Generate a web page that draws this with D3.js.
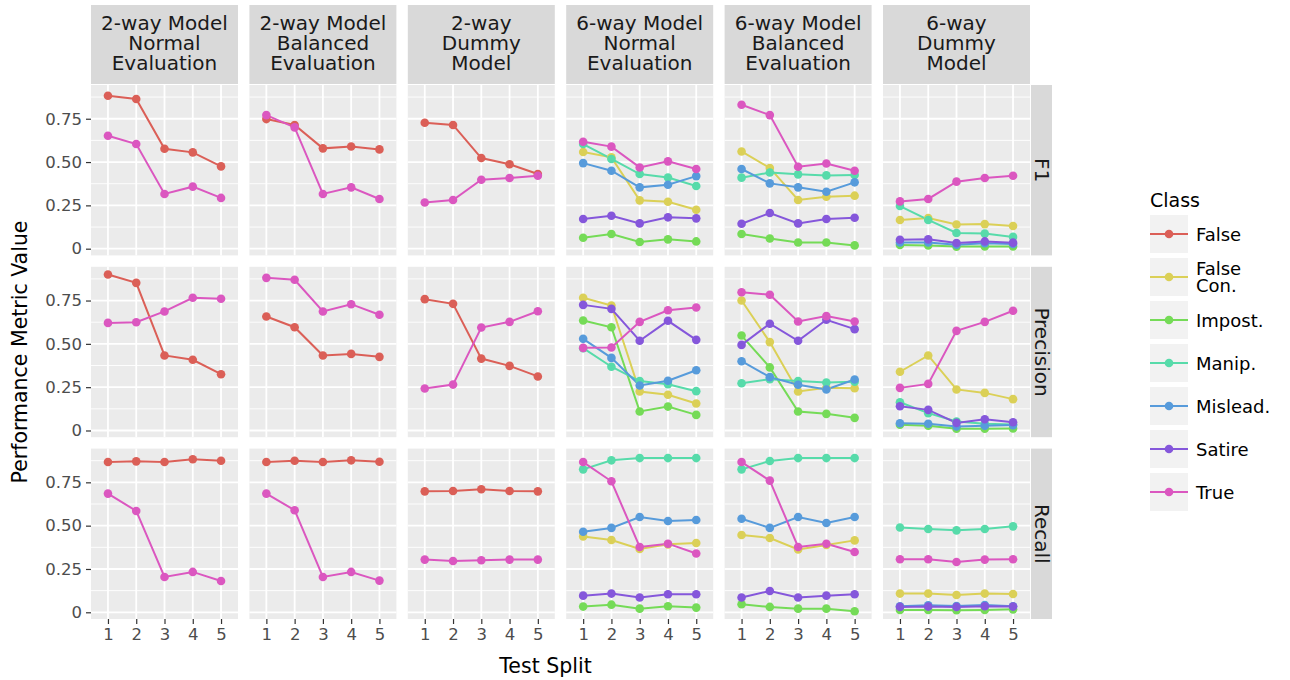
<!DOCTYPE html>
<html>
<head>
<meta charset="utf-8">
<script src="https://cdn.jsdelivr.net/npm/d3@7"></script>
<style>
  html, body { margin: 0; padding: 0; background: #fff; }
  svg { display: block; font-family: "DejaVu Sans", sans-serif; }
</style>
</head>
<body>
<svg id="chart" width="1290" height="680"></svg>
<script>
// facet labels
const models = ['2-way Model\nNormal\nEvaluation', '2-way Model\nBalanced\nEvaluation', '2-way\nDummy\nModel',
  '6-way Model\nNormal\nEvaluation', '6-way Model\nBalanced\nEvaluation', '6-way\nDummy\nModel'];
const metrics = ['F1', 'Precision', 'Recall'];
const splits = [1, 2, 3, 4, 5];
const yTicks = [0, 0.25, 0.5, 0.75];
const yTickLabels = ['0', '0.25', '0.50', '0.75'];

const classes = ['False', 'False\nCon.', 'Impost.', 'Manip.', 'Mislead.', 'Satire', 'True'];
const twoWayClasses = ['False', 'True'];
const sixWayClasses = ['False\nCon.', 'Impost.', 'Manip.', 'Mislead.', 'Satire', 'True'];

// 2-way model, normal evaluation  [False, True]
const f1_2wayNormal = [[0.883, 0.864, 0.577, 0.556, 0.475], [0.652, 0.604, 0.316, 0.358, 0.293]];
const prec_2wayNormal = [[0.900, 0.852, 0.433, 0.408, 0.325], [0.621, 0.625, 0.687, 0.766, 0.760]];
const rec_2wayNormal = [[0.867, 0.871, 0.867, 0.883, 0.875], [0.685, 0.585, 0.204, 0.233, 0.181]];

// 2-way model, balanced evaluation
const f1_2wayBalanced = [[0.748, 0.714, 0.579, 0.590, 0.573], [0.771, 0.700, 0.316, 0.354, 0.287]];
const prec_2wayBalanced = [[0.658, 0.596, 0.433, 0.442, 0.425], [0.881, 0.870, 0.687, 0.729, 0.668]];
const rec_2wayBalanced = [[0.867, 0.875, 0.867, 0.877, 0.869], [0.685, 0.589, 0.204, 0.233, 0.183]];

// 2-way dummy model
const f1_2wayDummy = [[0.727, 0.714, 0.523, 0.487, 0.431], [0.267, 0.281, 0.398, 0.408, 0.421]];
const prec_2wayDummy = [[0.758, 0.731, 0.415, 0.373, 0.312], [0.242, 0.265, 0.594, 0.627, 0.688]];
const rec_2wayDummy = [[0.698, 0.700, 0.710, 0.700, 0.698], [0.304, 0.296, 0.300, 0.304, 0.304]];

// 6-way model, normal evaluation  [False Con., Impost., Manip., Mislead., Satire, True]
const f1_6wayNormal = [
  [0.558, 0.527, 0.279, 0.271, 0.225], [0.063, 0.085, 0.039, 0.054, 0.042],
  [0.604, 0.518, 0.431, 0.411, 0.362], [0.494, 0.450, 0.354, 0.369, 0.419],
  [0.171, 0.190, 0.146, 0.181, 0.175], [0.617, 0.589, 0.469, 0.504, 0.460]];
const prec_6wayNormal = [
  [0.766, 0.721, 0.225, 0.206, 0.156], [0.635, 0.596, 0.110, 0.138, 0.090],
  [0.475, 0.368, 0.285, 0.267, 0.227], [0.529, 0.419, 0.260, 0.287, 0.348],
  [0.725, 0.702, 0.518, 0.633, 0.523], [0.477, 0.479, 0.627, 0.694, 0.710]];
const rec_6wayNormal = [
  [0.438, 0.417, 0.365, 0.392, 0.400], [0.033, 0.044, 0.021, 0.035, 0.027],
  [0.825, 0.877, 0.890, 0.890, 0.890], [0.465, 0.487, 0.550, 0.527, 0.533],
  [0.096, 0.108, 0.085, 0.104, 0.104], [0.867, 0.756, 0.377, 0.396, 0.339]];

// 6-way model, balanced evaluation
const f1_6wayBalanced = [
  [0.561, 0.466, 0.281, 0.300, 0.306], [0.085, 0.059, 0.036, 0.036, 0.019],
  [0.410, 0.440, 0.429, 0.423, 0.425], [0.460, 0.377, 0.354, 0.329, 0.383],
  [0.144, 0.206, 0.146, 0.171, 0.179], [0.831, 0.771, 0.473, 0.492, 0.450]];
const prec_6wayBalanced = [
  [0.750, 0.510, 0.225, 0.246, 0.244], [0.548, 0.364, 0.110, 0.096, 0.073],
  [0.273, 0.296, 0.285, 0.277, 0.281], [0.400, 0.308, 0.264, 0.237, 0.294],
  [0.494, 0.616, 0.518, 0.639, 0.585], [0.798, 0.783, 0.629, 0.660, 0.629]];
const rec_6wayBalanced = [
  [0.446, 0.429, 0.363, 0.388, 0.415], [0.046, 0.031, 0.021, 0.021, 0.006],
  [0.825, 0.873, 0.890, 0.890, 0.890], [0.540, 0.487, 0.550, 0.515, 0.550],
  [0.085, 0.123, 0.085, 0.096, 0.104], [0.867, 0.760, 0.377, 0.396, 0.348]];

// 6-way dummy model
const f1_6wayDummy = [
  [0.166, 0.177, 0.140, 0.142, 0.131], [0.021, 0.019, 0.012, 0.013, 0.013],
  [0.246, 0.166, 0.091, 0.087, 0.068], [0.036, 0.036, 0.023, 0.031, 0.027],
  [0.052, 0.054, 0.033, 0.042, 0.035], [0.273, 0.287, 0.387, 0.408, 0.421]];
const prec_6wayDummy = [
  [0.339, 0.433, 0.237, 0.217, 0.181], [0.033, 0.027, 0.010, 0.010, 0.012],
  [0.163, 0.100, 0.052, 0.039, 0.035], [0.042, 0.039, 0.023, 0.027, 0.031],
  [0.140, 0.119, 0.044, 0.065, 0.048], [0.246, 0.269, 0.575, 0.627, 0.691]];
const rec_6wayDummy = [
  [0.108, 0.108, 0.100, 0.108, 0.106], [0.013, 0.013, 0.012, 0.013, 0.017],
  [0.489, 0.481, 0.473, 0.481, 0.496], [0.035, 0.040, 0.036, 0.042, 0.035],
  [0.031, 0.033, 0.031, 0.035, 0.033], [0.306, 0.306, 0.290, 0.304, 0.306]];

// grid of panels: rows = metrics, cols = models
const panelData = [
  [f1_2wayNormal, f1_2wayBalanced, f1_2wayDummy, f1_6wayNormal, f1_6wayBalanced, f1_6wayDummy],
  [prec_2wayNormal, prec_2wayBalanced, prec_2wayDummy, prec_6wayNormal, prec_6wayBalanced, prec_6wayDummy],
  [rec_2wayNormal, rec_2wayBalanced, rec_2wayDummy, rec_6wayNormal, rec_6wayBalanced, rec_6wayDummy]
];
const panelClasses = [twoWayClasses, twoWayClasses, twoWayClasses, sixWayClasses, sixWayClasses, sixWayClasses];

const colors = ['#DB5F57', '#DBD057', '#75DB57', '#57DBAA', '#579BDB', '#8557DB', '#DB57C0'];

const svg = d3.select('#chart');

const plotLeft = 91, plotRight = 1030, plotTop = 85, plotBottom = 619;
const gap = 11.4;
const pw = (plotRight - plotLeft - gap * 5) / 6;
const ph = (plotBottom - plotTop - gap * 2) / 3;

const color = d3.scaleOrdinal().domain(classes).range(colors);

// shared y scale, ggplot style 5% expansion
const allVals = panelData.flat(3);
const [ymin, ymax] = d3.extent(allVals);
const pad = (ymax - ymin) * 0.05;
const y = d3.scaleLinear().domain([ymin - pad, ymax + pad]).range([ph, 0]);

// discrete x: 0.6 expansion each side
const x = d3.scaleLinear().domain([0.4, 5.6]).range([0, pw]);
const minorY = [0.125, 0.375, 0.625, 0.875];

const line = d3.line().x((d, i) => x(splits[i])).y(d => y(d));

panelData.forEach((rowData, r) => {
  rowData.forEach((series, c) => {
    const px = plotLeft + c * (pw + gap);
    const py = plotTop + r * (ph + gap);
    const g = svg.append('g').attr('transform', `translate(${px},${py})`);

    g.append('rect').attr('width', pw).attr('height', ph).attr('fill', '#EBEBEB');

    g.selectAll('.minor').data(minorY.filter(v => y(v) > 0 && y(v) < ph)).enter()
      .append('line')
      .attr('x1', 0).attr('x2', pw)
      .attr('y1', d => y(d)).attr('y2', d => y(d))
      .attr('stroke', '#fff').attr('stroke-width', 0.9);

    g.selectAll('.majorY').data(yTicks).enter()
      .append('line')
      .attr('x1', 0).attr('x2', pw)
      .attr('y1', d => y(d)).attr('y2', d => y(d))
      .attr('stroke', '#fff').attr('stroke-width', 1.8);

    g.selectAll('.majorX').data(splits).enter()
      .append('line')
      .attr('y1', 0).attr('y2', ph)
      .attr('x1', d => x(d)).attr('x2', d => x(d))
      .attr('stroke', '#fff').attr('stroke-width', 1.8);

    const cls = panelClasses[c];

    g.selectAll('.series').data(series).enter()
      .append('path')
      .attr('d', d => line(d))
      .attr('fill', 'none')
      .attr('stroke', (d, i) => color(cls[i]))
      .attr('stroke-width', 2);

    series.forEach((vals, i) => {
      g.selectAll(null).data(vals).enter()
        .append('circle')
        .attr('cx', (d, j) => x(splits[j]))
        .attr('cy', d => y(d))
        .attr('r', 4.3)
        .attr('fill', color(cls[i]));
    });

    // y axis on first column
    if (c === 0) {
      const ax = g.append('g').call(d3.axisLeft(y).tickValues(yTicks)
        .tickFormat((d, i) => yTickLabels[i]).tickSize(5).tickPadding(4));
      ax.select('.domain').remove();
      ax.selectAll('line').attr('stroke', '#333').attr('stroke-width', 1.2);
      ax.selectAll('text').attr('fill', '#4D4D4D').style('font-size', '16.5px')
        .style('font-family', '"DejaVu Sans", sans-serif');
    }

    // x axis on bottom row
    if (r === 2) {
      const ax = g.append('g').attr('transform', `translate(0,${ph})`)
        .call(d3.axisBottom(x).tickValues(splits).tickFormat(d3.format('d')).tickSize(5).tickPadding(4));
      ax.select('.domain').remove();
      ax.selectAll('line').attr('stroke', '#333').attr('stroke-width', 1.2);
      ax.selectAll('text').attr('fill', '#4D4D4D').style('font-size', '16.5px')
        .style('font-family', '"DejaVu Sans", sans-serif');
    }

    // column strips, one text per line
    if (r === 0) {
      const sh = 79;
      const sg = svg.append('g').attr('transform', `translate(${px},${plotTop - sh - 1})`);
      sg.append('rect').attr('width', pw).attr('height', sh).attr('fill', '#D9D9D9');
      const lines = models[c].split('\n');
      lines.forEach((ln, k) => {
        sg.append('text').attr('text-anchor', 'middle').attr('fill', '#1A1A1A')
          .style('font-size', '20px')
          .attr('x', pw / 2).attr('y', sh / 2 + (k - (lines.length - 1) / 2) * 20 + 5).text(ln);
      });
    }

    // row strips
    if (c === 5) {
      const sw = 21;
      const sg = svg.append('g').attr('transform', `translate(${px + pw + 1},${py})`);
      sg.append('rect').attr('width', sw).attr('height', ph).attr('fill', '#D9D9D9');
      sg.append('text')
        .attr('transform', `translate(${sw / 2 - 7},${ph / 2}) rotate(90)`)
        .attr('text-anchor', 'middle')
        .attr('fill', '#1A1A1A')
        .style('font-size', '20px')
        .text(metrics[r]);
    }
  });
});

// axis titles
svg.append('text')
  .attr('x', (plotLeft + plotRight) / 2 - 15).attr('y', 673)
  .attr('text-anchor', 'middle').style('font-size', '20.5px').attr('fill', '#000')
  .text('Test Split');

svg.append('text')
  .attr('transform', `translate(27,${(plotTop + plotBottom) / 2}) rotate(-90)`)
  .attr('text-anchor', 'middle').style('font-size', '20.5px').attr('fill', '#000')
  .text('Performance Metric Value');

// legend
const lg = svg.append('g').attr('transform', 'translate(1150,215)');
lg.append('text').attr('x', 0).attr('y', -8).style('font-size', '19px').attr('fill', '#000').text('Class');

classes.forEach((cl, i) => {
  const ky = i * 43;
  const k = lg.append('g').attr('transform', `translate(0,${ky})`);
  k.append('rect').attr('width', 38).attr('height', 38).attr('fill', '#F2F2F2');
  k.append('line').attr('x1', 0).attr('x2', 38).attr('y1', 19).attr('y2', 19)
    .attr('stroke', color(cl)).attr('stroke-width', 2);
  k.append('circle').attr('cx', 19).attr('cy', 19).attr('r', 4.3).attr('fill', color(cl));
  const lines = cl.split('\n');
  lines.forEach((ln, j) => {
    k.append('text').style('font-size', '18px').attr('fill', '#000')
      .attr('x', 46).attr('y', 19 + 6.5 + (j - (lines.length - 1) / 2) * 17).text(ln);
  });
});
</script>
</body>
</html>
